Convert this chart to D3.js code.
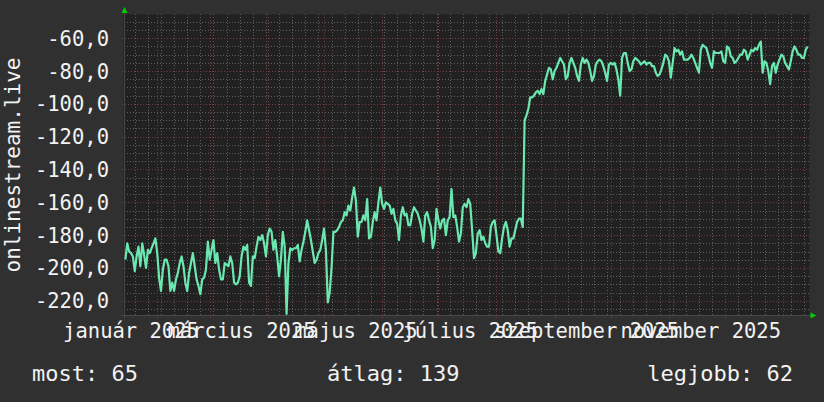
<!DOCTYPE html>
<html><head><meta charset="utf-8">
<script src="https://cdn.jsdelivr.net/npm/d3@7"></script>
<style>html,body{margin:0;padding:0;background:#303030;overflow:hidden}</style>
</head><body>
<script>
// ---- data ----
const windowStart = "2025-01-14";
const windowEnd = "2026-01-15";
const firstDay = "2025-01-15";
const ranks = [
-195,-185,-190,-191,-193,-202,-193,-187,-199,-185,
-192,-200,-189,-191,-188,-185,-182,-191,-206,-214,
-201,-195,-195,-199,-214,-209,-214,-207,-203,-197,
-193,-199,-209,-214,-203,-197,-191,-199,-207,-211,
-216,-207,-206,-201,-184,-195,-189,-183,-197,-191,
-201,-207,-207,-197,-198,-199,-193,-197,-209,-210,
-209,-205,-193,-187,-189,-186,-209,-211,-193,-194,
-187,-181,-183,-180,-185,-193,-180,-176,-178,-189,
-183,-193,-205,-195,-178,-187,-228,-197,-188,-189,
-188,-188,-186,-196,-189,-184,-178,-171,-177,-183,
-190,-197,-195,-191,-189,-183,-176,-189,-221,-215,
-200,-178,-178,-177,-175,-172,-171,-166,-168,-162,
-165,-157,-151,-159,-181,-172,-172,-168,-171,-158,
-182,-181,-172,-166,-171,-160,-151,-161,-164,-160,
-161,-162,-167,-164,-171,-173,-183,-168,-163,-168,
-167,-174,-174,-167,-163,-165,-167,-171,-176,-184,
-168,-166,-171,-175,-188,-183,-164,-171,-176,-171,
-170,-180,-171,-169,-152,-169,-168,-175,-184,-179,
-163,
-161,-163,-158,-161,-177,-194,-191,-179,-177,-183,
-181,-185,-187,-187,-175,-172,-171,-180,-190,-191,
-182,-175,-172,-177,-187,-182,-182,-177,-172,-170,
-170,-175,-110,-107,-103,-96,-96,-95,-93,-92,
-94,-91,-94,-86,-82,-78,-79,-85,-80,-78,
-75,-72,-74,-76,-85,-83,-75,-72,-75,-78,
-83,-86,-76,-72,-75,-73,-75,-80,-86,-83,
-76,-74,-73,-74,-77,-81,-86,-76,-75,-76,
-75,-79,-85,-95,-72,-69,-69,-75,-80,-79,
-74,-72,-73,-74,
-76,-75,-74,-76,-75,-75,-77,-77,-81,-83,
-82,-79,-75,-70,-71,-74,-84,-75,-66,-68,
-67,-70,-68,-73,-73,-73,-72,-70,-72,-75,
-78,-81,-67,-64,-65,-66,-70,-75,-78,-68,
-69,-69,-69,-68,-74,-75,-65,-66,-71,-72,
-75,-74,-72,-70,-70,-67,-68,-73,-70,-67,
-68,-66,-67,-64,-62,-81,-74,-75,-80,-88,
-77,-75,-81,-76,-73,-70,-71,-75,-77,-79,
-74,-68,-65,-67,-70,-70,-72,-72,-67,-65
];
const yDomain = [-228.7, -45.4];
const yTickValues = [-220,-200,-180,-160,-140,-120,-100,-80,-60];
const monthLabels = ["január 2025","március 2025","május 2025","július 2025","szeptember 2025","november 2025"];
const labelMonths = ["2025-01-01","2025-03-01","2025-05-01","2025-07-01","2025-09-01","2025-11-01"];
const yTitle = "onlinestream.live";
const legendLabels = ["most","átlag","legjobb"];
const legendValues = [65,139,62];

// ---- layout ----
const W = 824, H = 402;
const L = 123.5, R = 809.5, T = 14.3, B = 315;
const FONT = "'DejaVu Sans Mono', monospace";

const parse = d3.utcParse("%Y-%m-%d");
const x = d3.scaleUtc().domain([parse(windowStart), parse(windowEnd)]).range([L, R]);
const y = d3.scaleLinear().domain(yDomain).range([B, T]);
const dates = ranks.map((_, i) => d3.utcDay.offset(parse(firstDay), i));

const svg = d3.select("body").append("svg").attr("width", W).attr("height", H)
  .style("display","block").style("background","#303030");

svg.append("rect").attr("x", L).attr("y", T).attr("width", R - L).attr("height", B - T).attr("fill", "#212121");

const grid = svg.append("g").attr("shape-rendering","crispEdges");
const px = v => Math.round(v) + 0.5;

// minor horizontal grid every 5
const minorY = d3.range(-225, -45, 5).filter(v => v % 20 !== 0);
grid.selectAll(".hmin").data(minorY).join("line")
  .attr("x1", L).attr("x2", R).attr("y1", d => px(y(d))).attr("y2", d => px(y(d)))
  .attr("stroke", "#5e5e5e").attr("stroke-dasharray", "1,2");
// minor vertical grid: weekly (Mondays)
const weeks = d3.utcMonday.range(x.domain()[0], x.domain()[1]);
grid.selectAll(".vmin").data(weeks).join("line")
  .attr("y1", T).attr("y2", B + 2).attr("x1", d => px(x(d))).attr("x2", d => px(x(d)))
  .attr("stroke", "#5e5e5e").attr("stroke-dasharray", "1,2");
// major horizontal grid
grid.selectAll(".hmaj").data(yTickValues).join("line")
  .attr("x1", L - 2).attr("x2", R).attr("y1", d => px(y(d))).attr("y2", d => px(y(d)))
  .attr("stroke", "#7a3a3a").attr("stroke-dasharray", "1,2");
// major vertical grid: months
const months = d3.utcMonth.range(x.domain()[0], x.domain()[1]);
grid.selectAll(".vmaj").data(months).join("line")
  .attr("y1", T).attr("y2", B + 3).attr("x1", d => px(x(d))).attr("x2", d => px(x(d)))
  .attr("stroke", "#7a3a3a").attr("stroke-dasharray", "1,2");

// axes lines
grid.append("line").attr("x1", L - 3).attr("x2", R + 2).attr("y1", px(B)).attr("y2", px(B)).attr("stroke", "#484848");
grid.append("line").attr("x1", px(L)).attr("x2", px(L)).attr("y1", T - 3).attr("y2", B + 3).attr("stroke", "#484848");

// arrows
svg.append("path").attr("d", `M${px(L)-3},13 L${px(L)+3},13 L${px(L)},7 Z`).attr("fill", "#00cc00");
svg.append("path").attr("d", `M${R+1},${px(B)-3} L${R+1},${px(B)+3} L${R+7},${px(B)} Z`).attr("fill", "#00cc00");

// data line
svg.append("clipPath").attr("id","plot").append("rect").attr("x", L).attr("y", T).attr("width", R - L).attr("height", B - T);
const line = d3.line().x((d, i) => x(dates[i])).y(d => y(d));
svg.append("path").datum(ranks).attr("d", line).attr("clip-path","url(#plot)")
  .attr("fill", "none").attr("stroke", "#6ae8b0").attr("stroke-width", 2.2).attr("stroke-linejoin","round");

// y labels
const fmt = v => d3.format(".1f")(v).replace(".", ",").replace("−","-");
svg.selectAll(".ylab").data(yTickValues).join("text")
  .attr("x", 109).attr("y", d => y(d) + 7.5).attr("text-anchor","end")
  .attr("font-family", FONT).attr("font-size", 20.5).attr("fill", "#f2f2f2")
  .text(d => fmt(d));

// x labels
svg.selectAll(".xlab").data(labelMonths).join("text")
  .attr("x", d => x(d3.utcDay.offset(parse(d), 17))).attr("y", 337.7).attr("text-anchor","middle")
  .attr("font-family", FONT).attr("font-size", 20.5).attr("fill", "#f2f2f2")
  .text((d, i) => monthLabels[i]);

// y title
svg.append("text").attr("transform", "translate(20,165) rotate(-90)").attr("text-anchor","middle")
  .attr("font-family", FONT).attr("font-size", 21).attr("fill", "#f2f2f2").text(yTitle);

// legend
const legendText = legendLabels.map((l, i) => `${l}: ${legendValues[i]}`);
svg.append("text").attr("x", 32).attr("y", 381).attr("font-family", FONT).attr("font-size", 22).attr("fill", "#f2f2f2").text(legendText[0]);
svg.append("text").attr("x", 327).attr("y", 381).attr("font-family", FONT).attr("font-size", 22).attr("fill", "#f2f2f2").text(legendText[1]);
svg.append("text").attr("x", 793).attr("y", 381).attr("text-anchor","end").attr("font-family", FONT).attr("font-size", 22).attr("fill", "#f2f2f2").text(legendText[2]);
</script>
</body></html>
